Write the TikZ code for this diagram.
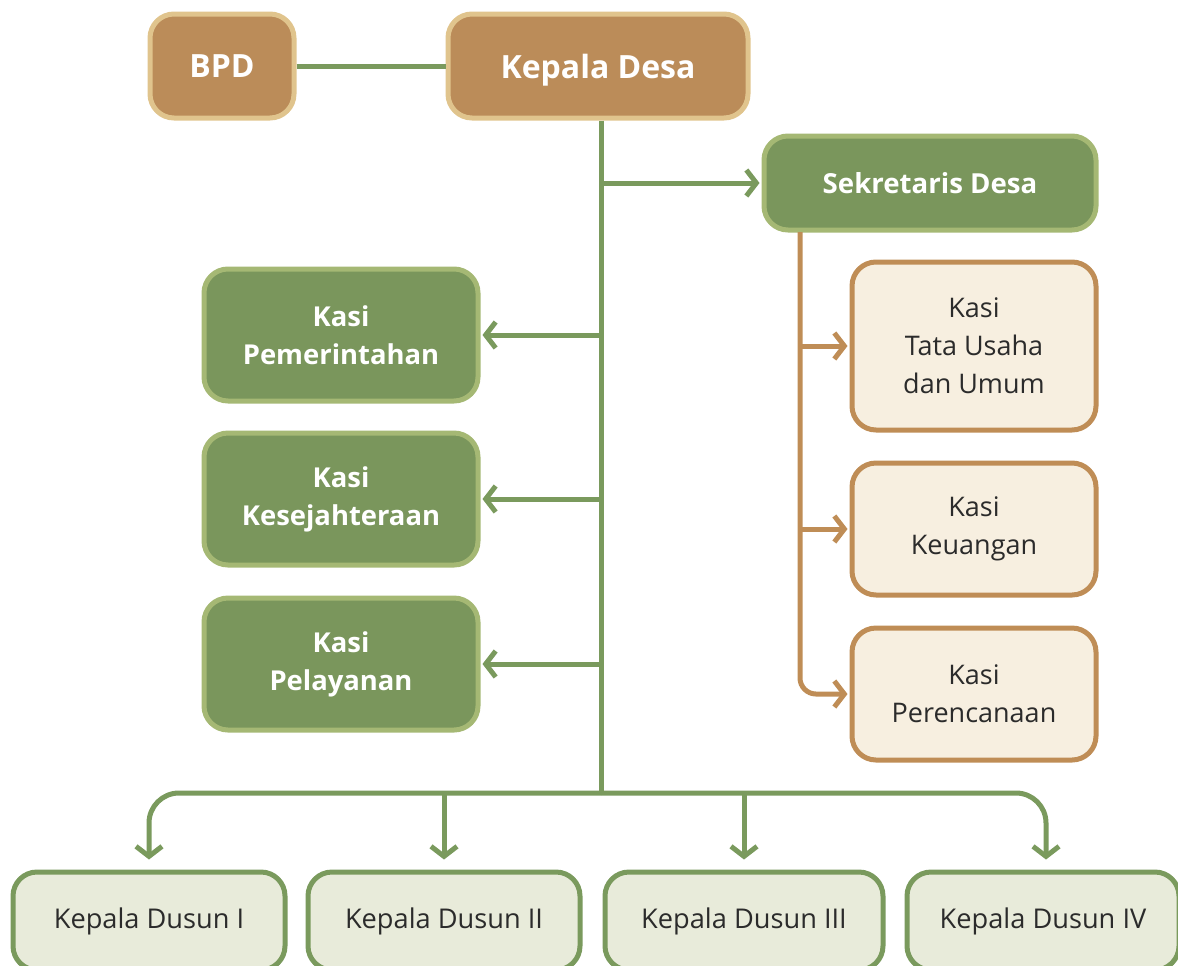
\documentclass[tikz,border=0pt]{standalone}
\usepackage{fontspec}
\setmainfont{Open Sans}
\usetikzlibrary{arrows.meta}

\definecolor{brownfill}{HTML}{BB8C59}
\definecolor{brownedge}{HTML}{E0C48D}
\definecolor{greenfill}{HTML}{7A965C}
\definecolor{greenedge}{HTML}{A5B874}
\definecolor{creamfill}{HTML}{F7EFE0}
\definecolor{creamedge}{HTML}{BF8D56}
\definecolor{palefill}{HTML}{E8EBDA}
\definecolor{paleedge}{HTML}{7A9A5D}
\definecolor{textdark}{HTML}{2B2B2B}

\begin{document}
\begin{tikzpicture}[x=0.5pt, y=-0.5pt,
    every node/.style={rounded corners=12pt, line width=2.5pt, align=center},
    headbox/.style={draw=brownedge, fill=brownfill, text=white, font=\bfseries\fontsize{16}{19}\selectfont, text depth=0pt, minimum height=52pt},
    kasibox/.style={draw=greenedge, fill=greenfill, text=white, font=\bfseries\fontsize{13.7}{19}\selectfont, minimum width=137pt, minimum height=66pt},
    sekbox/.style={draw=creamedge, fill=creamfill, text=textdark, font=\fontsize{13.5}{19}\selectfont, minimum width=122pt},
    dusunbox/.style={draw=paleedge, fill=palefill, text=textdark, font=\fontsize{13.6}{15}\selectfont, minimum width=136pt, minimum height=49pt},
    greenline/.style={draw=paleedge, line width=2.5pt},
    greenarrow/.style={greenline, -{Straight Barb[length=5pt, width=13pt, line width=2.5pt]}, shorten >=1pt},
    brownarrow/.style={draw=creamedge, line width=2.5pt, -{Straight Barb[length=5pt, width=13pt, line width=2.5pt]}, shorten >=1pt},
    ]
  \useasboundingbox (0,0) rectangle (1178,965);

  % top
  \node[headbox, minimum width=72pt] (bpd) at (222,66) {BPD};
  \node[headbox, minimum width=150pt] (kades) at (598,66) {Kepala Desa};
  \node[kasibox, minimum width=166pt, minimum height=47pt, font=\bfseries\fontsize{13.8}{15}\selectfont] (sekdes) at (930,183) {Sekretaris Desa};

  % kasi
  \node[kasibox] (kpem) at (341,335) {Kasi\\Pemerintahan};
  \node[kasibox] (kkes) at (341,499) {Kasi\\Kesejahteraan};
  \node[kasibox] (kpel) at (341,664) {Kasi\\Pelayanan};

  % bawah sekretaris
  \node[sekbox, minimum height=84pt] (ktu) at (974,346) {Kasi\\Tata Usaha\\dan Umum};
  \node[sekbox, minimum height=66pt] (kkeu) at (974,529) {Kasi\\Keuangan};
  \node[sekbox, minimum height=66pt] (kper) at (974,694) {Kasi\\Perencanaan};

  % dusun
  \node[dusunbox] (dus1) at (149,921) {Kepala Dusun I};
  \node[dusunbox] (dus2) at (444,921) {Kepala Dusun II};
  \node[dusunbox, minimum width=139pt] (dus3) at (744,921) {Kepala Dusun III};
  \node[dusunbox] (dus4) at (1043,921) {Kepala Dusun IV};

  \coordinate (bus) at (601,793);
  \coordinate (sd) at (800,232);

  % garis
  \draw[greenline] (bpd) -- (kades);
  \draw[greenline] (bus |- kades.south) -- (bus);
  \draw[greenarrow] (bus |- sekdes) -- (sekdes);
  \draw[greenarrow] (bus |- kpem) -- (kpem);
  \draw[greenarrow] (bus |- kkes) -- (kkes);
  \draw[greenarrow] (bus |- kpel) -- (kpel);

  \draw[greenarrow, rounded corners=15pt, shorten >=5pt] (bus) -| (dus1.north);
  \draw[greenarrow, rounded corners=15pt, shorten >=5pt] (bus) -| (dus4.north -| 1046,0);
  \draw[greenarrow, shorten >=5pt] (dus2.north |- bus) -- (dus2.north);
  \draw[greenarrow, shorten >=5pt] (dus3.north |- bus) -- (dus3.north);

  \draw[brownarrow] (sd |- ktu) -- (ktu);
  \draw[brownarrow] (sd |- kkeu) -- (kkeu);
  \draw[brownarrow, rounded corners=8pt] (sd) |- (kper);
\end{tikzpicture}
\end{document}
